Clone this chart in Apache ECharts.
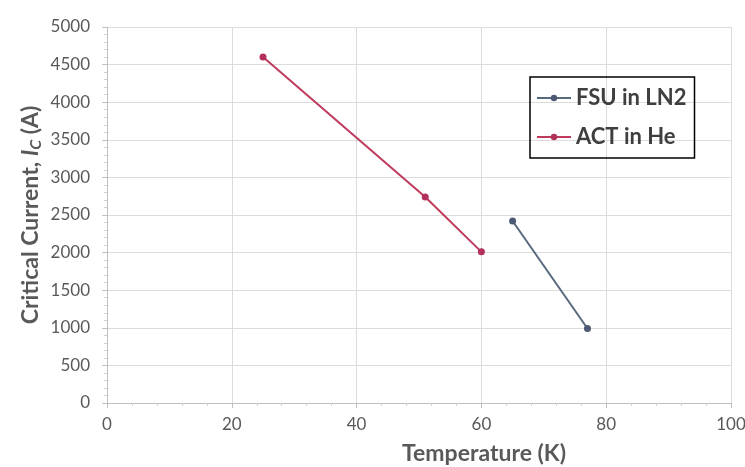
<!DOCTYPE html>
<html><head><meta charset="utf-8">
<script src="https://cdn.jsdelivr.net/npm/echarts@6/dist/echarts.min.js"></script>
<style>html,body{margin:0;padding:0;background:#fff}#c{width:745px;height:467px}</style>
</head><body><div id="c"></div>
<script>
const fsuTemp = [65, 77];
const fsuIc = [2420, 990];
const actTemp = [25, 51, 60];
const actIc = [4600, 2740, 2010];
const xTicks = [0, 20, 40, 60, 80, 100];
const yTicks = [0, 500, 1000, 1500, 2000, 2500, 3000, 3500, 4000, 4500, 5000];
const seriesNames = ['FSU in LN2', 'ACT in He'];

const font = 'Lato, "Open Sans", sans-serif';
const chart = echarts.init(document.getElementById('c'));
chart.setOption({
  backgroundColor: '#fff',
  animation: false,
  grid: {left: 107, right: 14, top: 27, bottom: 64, containLabel: false, outerBoundsMode: 'none'},
  legend: {
    orient: 'vertical', left: 530, top: 77,
    data: seriesNames,
    borderColor: '#000', borderWidth: 1.5,
    padding: [10, 8, 10, 6], itemGap: 17,
    itemWidth: 34, itemHeight: 8,
    textStyle: {fontFamily: font, fontSize: 22, fontWeight: 'bold', color: '#3f3f3f'}
  },
  xAxis: {
    type: 'value', min: xTicks[0], max: xTicks[xTicks.length - 1], interval: 20,
    name: 'Temperature (K)', nameLocation: 'middle', nameGap: 39, nameMoveOverlap: false,
    nameTextStyle: {fontFamily: font, fontSize: 23, fontWeight: 'bold', color: '#595959', padding: [0, 0, 0, 130]},
    axisLine: {lineStyle: {color: '#bfbfbf'}},
    axisTick: {show: true, length: 5, lineStyle: {color: '#bfbfbf'}},
    minorTick: {show: true, splitNumber: 5, length: 3, lineStyle: {color: '#d0d0d0'}},
    axisLabel: {fontFamily: font, fontSize: 17, color: '#595959', margin: 13},
    splitLine: {show: true, lineStyle: {color: '#dcdcdc', width: 1}}
  },
  yAxis: {
    type: 'value', min: yTicks[0], max: yTicks[yTicks.length - 1], interval: 500,
    name: '{a|Critical Current, }{i|I}{s|C}{a| (A)}', nameLocation: 'middle', nameGap: 63, nameMoveOverlap: false,
    nameTextStyle: {
      rich: {
        a: {fontFamily: font, fontSize: 23, fontWeight: 'bold', color: '#595959'},
        i: {fontFamily: font, fontSize: 23, fontWeight: 'bold', fontStyle: 'italic', color: '#595959'},
        s: {fontFamily: font, fontSize: 16, fontWeight: 'bold', fontStyle: 'italic', color: '#595959', verticalAlign: 'bottom', padding: [10, 0, 0, 0]}
      }
    },
    axisLine: {show: true, lineStyle: {color: '#bfbfbf'}},
    axisTick: {show: true, length: 5, lineStyle: {color: '#bfbfbf'}},
    minorTick: {show: true, splitNumber: 5, length: 3, lineStyle: {color: '#d0d0d0'}},
    axisLabel: {fontFamily: font, fontSize: 17, color: '#595959', margin: 17, formatter: v => String(v)},
    splitLine: {show: true, lineStyle: {color: '#dcdcdc', width: 1}}
  },
  series: [
    {
      name: seriesNames[0], type: 'line',
      data: fsuTemp.map((t, i) => [t, fsuIc[i]]),
      symbol: 'circle', symbolSize: 7,
      lineStyle: {color: '#56697d', width: 2},
      itemStyle: {color: '#4b5a72'}
    },
    {
      name: seriesNames[1], type: 'line',
      data: actTemp.map((t, i) => [t, actIc[i]]),
      symbol: 'circle', symbolSize: 7,
      lineStyle: {color: '#bf3a5c', width: 2},
      itemStyle: {color: '#b2305a'}
    }
  ]
});
</script></body></html>
